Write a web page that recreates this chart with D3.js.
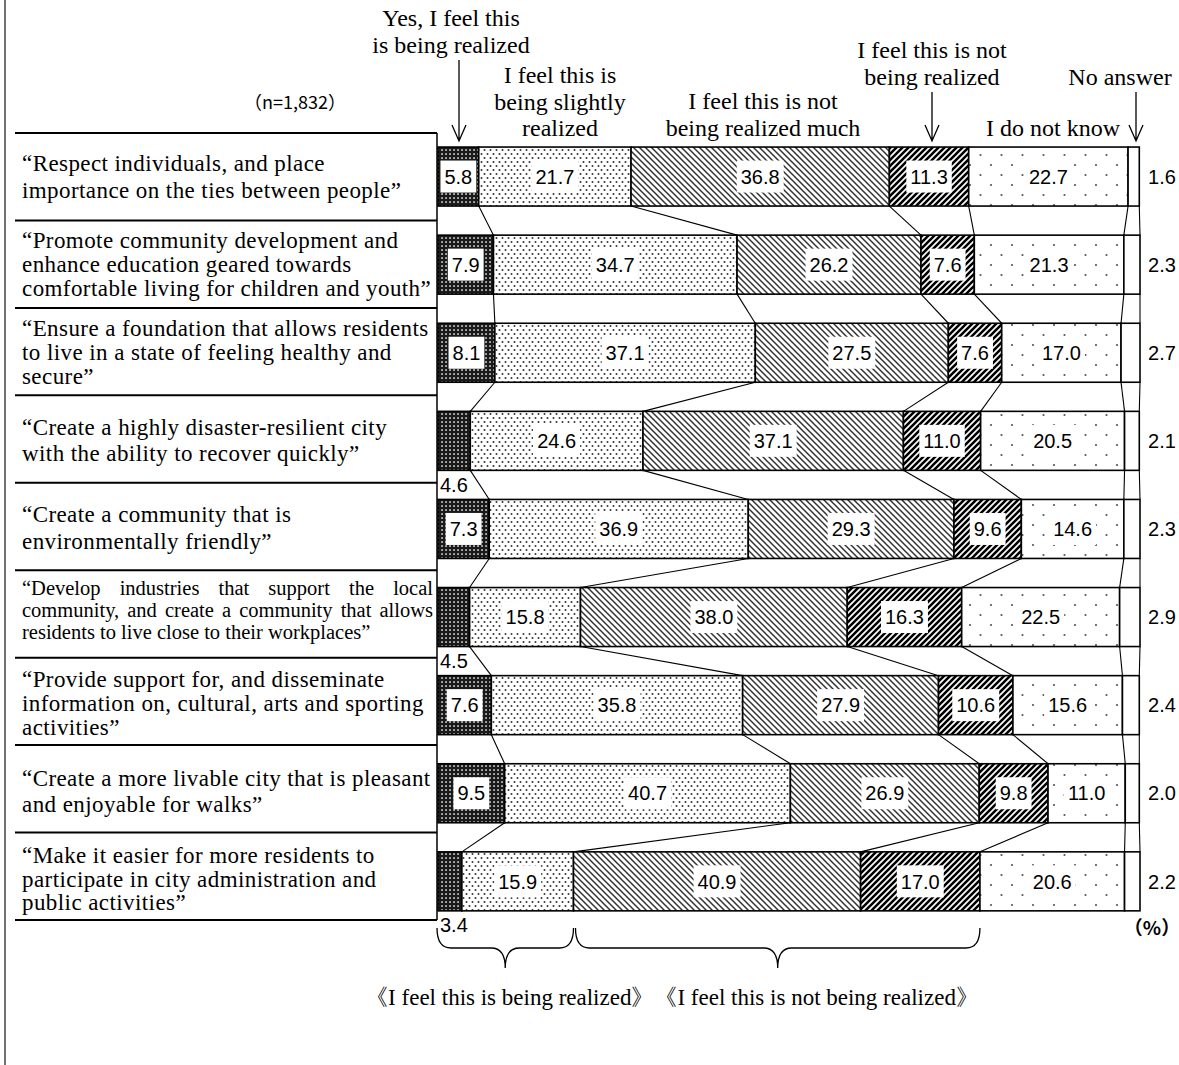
<!DOCTYPE html>
<html><head><meta charset="utf-8">
<script src="https://cdn.jsdelivr.net/npm/d3@7"></script>
<style>body{margin:0;background:#fff}svg{display:block}</style>
</head><body>
<svg id="chart" width="1179" height="1065"></svg>
<script>
// ---------- DATA ----------
const categoryLines = [
  ["“Respect individuals, and place", "importance on the ties between people”"],
  ["“Promote community development and", "enhance education geared towards", "comfortable living for children and youth”"],
  ["“Ensure a foundation that allows residents", "to live in a state of feeling healthy and", "secure”"],
  ["“Create a highly disaster-resilient city", "with the ability to recover quickly”"],
  ["“Create a community that is", "environmentally friendly”"],
  ["“Develop industries that support the local", "community, and create a community that allows", "residents to live close to their workplaces”"],
  ["“Provide support for, and disseminate", "information on, cultural, arts and sporting", "activities”"],
  ["“Create a more livable city that is pleasant", "and enjoyable for walks”"],
  ["“Make it easier for more residents to", "participate in city administration and", "public activities”"]
];
const seriesKeys = ["yes", "slightly", "notMuch", "not", "dontKnow", "noAnswer"];
const seriesHeaderLines = [
  ["Yes, I feel this", "is being realized"],
  ["I feel this is", "being slightly", "realized"],
  ["I feel this is not", "being realized much"],
  ["I feel this is not", "being realized"],
  ["I do not know"],
  ["No answer"]
];
const yesRealized      = [5.8, 7.9, 8.1, 4.6, 7.3, 4.5, 7.6, 9.5, 3.4];
const slightlyRealized = [21.7, 34.7, 37.1, 24.6, 36.9, 15.8, 35.8, 40.7, 15.9];
const notMuchRealized  = [36.8, 26.2, 27.5, 37.1, 29.3, 38.0, 27.9, 26.9, 40.9];
const notRealized      = [11.3, 7.6, 7.6, 11.0, 9.6, 16.3, 10.6, 9.8, 17.0];
const doNotKnow        = [22.7, 21.3, 17.0, 20.5, 14.6, 22.5, 15.6, 11.0, 20.6];
const noAnswer         = [1.6, 2.3, 2.7, 2.1, 2.3, 2.9, 2.4, 2.0, 2.2];
const sampleLabel = "（n=1,832）";
const unitLabel = "（%）";
const groupLabel = "《I feel this is being realized》《I feel this is not being realized》";

// ---------- SETUP ----------
const svg = d3.select("#chart");
const SERIF = "'Liberation Serif','Times New Roman',serif";
const SANS = "'Liberation Sans',Arial,sans-serif";
const n = categoryLines.length;

const table = categoryLines.map((c, i) => ({
  idx: i, yes: yesRealized[i], slightly: slightlyRealized[i], notMuch: notMuchRealized[i],
  not: notRealized[i], dontKnow: doNotKnow[i], noAnswer: noAnswer[i]
}));
const stacked = d3.stack().keys(seriesKeys)(table);

const x = d3.scaleLinear().domain([0, 100]).range([438, 1140]);
const y = d3.scaleBand().domain(d3.range(n)).range([132.5, 925.4]).padding(0);
const barH = 59;
const barTop = i => y(i) + (y.bandwidth() - barH) / 2;
const sepY = d3.scaleLinear().domain([0, n]).range([133, 920]);

// ---------- PATTERNS ----------
const defs = svg.append("defs");
function pat(id, w, h, build) {
  const p = defs.append("pattern").attr("id", id).attr("patternUnits", "userSpaceOnUse")
    .attr("width", w).attr("height", h);
  p.append("rect").attr("width", w).attr("height", h).attr("fill", "#fff");
  build(p);
}
pat("p0", 4, 4, p => {
  p.append("rect").attr("width", 4).attr("height", 4).attr("fill", "#1a1a1a");
  p.append("rect").attr("x", 1.3).attr("y", 1.3).attr("width", 1.5).attr("height", 1.5).attr("fill", "#fff");
});
pat("p1", 6, 8, p => {
  p.append("circle").attr("cx", 1.5).attr("cy", 2).attr("r", 1).attr("fill", "#333");
  p.append("circle").attr("cx", 4.5).attr("cy", 6).attr("r", 1).attr("fill", "#333");
});
pat("p2", 6, 6, p => {
  p.append("path").attr("d", "M-1,-1L7,7M-1,5L1,7M5,-1L7,1").attr("stroke", "#333").attr("stroke-width", 1.5);
});
pat("p3", 6, 6, p => {
  p.append("path").attr("d", "M-1,7L7,-1M-1,1L1,-1M5,7L7,5").attr("stroke", "#000").attr("stroke-width", 2.6);
});
pat("p4", 21, 20, p => {
  p.append("circle").attr("cx", 4).attr("cy", 5).attr("r", 1.1).attr("fill", "#555");
  p.append("circle").attr("cx", 14.5).attr("cy", 15).attr("r", 1.1).attr("fill", "#555");
});
const fills = ["url(#p0)", "url(#p1)", "url(#p2)", "url(#p3)", "url(#p4)", "#fff"];

// ---------- FRAME / SEPARATORS ----------
svg.append("line").attr("x1", 5).attr("x2", 5).attr("y1", 0).attr("y2", 1065)
  .attr("stroke", "#444").attr("stroke-width", 1.5);
svg.append("g").selectAll("line").data(d3.range(n + 1)).join("line")
  .attr("x1", 15).attr("x2", 437).attr("y1", d => sepY(d)).attr("y2", d => sepY(d))
  .attr("stroke", "#000").attr("stroke-width", 2);
svg.append("line").attr("x1", 437).attr("x2", 437).attr("y1", sepY(0)).attr("y2", sepY(n))
  .attr("stroke", "#000").attr("stroke-width", 1.5);

// ---------- CATEGORY LABELS ----------
const labG = svg.append("g").attr("font-family", SERIF).attr("fill", "#000");
categoryLines.forEach((lines, i) => {
  const barC = y(i) + y.bandwidth() / 2;
  const sepC = (sepY(i) + sepY(i + 1)) / 2;
  const small = lines.length === 3 && lines[1].length > 44;
  const cy = (barC + sepC) / 2 - (small ? 5 : 0);
  const fs = small ? 20.5 : 23;
  const gap = small ? 22 : (lines.length === 3 ? 23.8 : 26.5);
  lines.forEach((t, j) => {
    const ty = cy + (j - (lines.length - 1) / 2) * gap;
    const te = labG.append("text").attr("x", 22).attr("y", ty).attr("dy", "0.34em")
      .attr("font-size", fs).attr("letter-spacing", small ? 0 : 0.42).text(t);
    if (small && j < lines.length - 1) {
      const w = te.node().getComputedTextLength();
      const spaces = (t.match(/ /g) || []).length;
      te.attr("word-spacing", (411 - w) / spaces);
    }
  });
});

// ---------- BARS ----------
const barG = svg.append("g");
stacked.forEach((s, k) => {
  barG.append("g").selectAll("rect").data(s).join("rect")
    .attr("x", d => x(d[0])).attr("width", d => x(d[1]) - x(d[0]))
    .attr("y", (d, i) => barTop(i)).attr("height", barH)
    .attr("fill", fills[k]).attr("stroke", "#000").attr("stroke-width", 1.6);
});

// ---------- CONNECTORS ----------
const conG = svg.append("g").attr("stroke", "#000").attr("stroke-width", 1.1);
stacked.forEach((s, k) => {
  for (let i = 0; i < n - 1; i++) {
    conG.append("line")
      .attr("x1", x(s[i][1])).attr("y1", barTop(i) + barH)
      .attr("x2", x(s[i + 1][1])).attr("y2", barTop(i + 1));
  }
});

// ---------- VALUE LABELS ----------
const valG = svg.append("g").attr("font-family", SANS).attr("font-size", 20);
stacked.forEach((s, k) => {
  s.forEach((d, i) => {
    const v = d.data[seriesKeys[k]];
    const txt = v.toFixed(1);
    let tx, ty, anchor = "middle", box = true;
    if (k === 5) { tx = 1162; ty = barTop(i) + barH / 2; box = false; }
    else if (k === 0 && v < 5) { tx = 440; ty = barTop(i) + barH + 14; anchor = "start"; box = false; }
    else { tx = (x(d[0]) + x(d[1])) / 2; ty = barTop(i) + barH / 2; }
    const g = valG.append("g");
    const rect = g.append("rect").attr("fill", "#fff");
    const te = g.append("text").attr("x", tx).attr("y", ty).attr("dy", "0.36em")
      .attr("text-anchor", anchor).text(txt);
    if (box) {
      const b = te.node().getBBox();
      rect.attr("x", b.x - 4).attr("width", b.width + 8).attr("y", ty - 16).attr("height", 32);
    } else rect.remove();
  });
});

// ---------- HEADERS ----------
const hdG = svg.append("g").attr("font-family", SERIF).attr("font-size", 24).attr("text-anchor", "middle");
const headerPos = [
  {cx: 451, y0: 18, gap: 27, arrow: [459, 60, 141]},
  {cx: 560, y0: 75, gap: 26.5},
  {cx: 763, y0: 101, gap: 26.5},
  {cx: 932, y0: 50, gap: 27, arrow: [932, 92, 141]},
  {cx: 1053, y0: 128, gap: 26},
  {cx: 1120, y0: 77, gap: 26, arrow: [1136, 92, 141]}
];
seriesHeaderLines.forEach((lines, k) => {
  const p = headerPos[k];
  lines.forEach((t, j) => {
    hdG.append("text").attr("x", p.cx).attr("y", p.y0 + j * p.gap).attr("dy", "0.34em").text(t);
  });
  if (p.arrow) {
    const [ax, a0, a1] = p.arrow;
    svg.append("path").attr("d", `M${ax},${a0}V${a1}M${ax - 7},${a1 - 16}L${ax},${a1}L${ax + 7},${a1 - 16}`)
      .attr("fill", "none").attr("stroke", "#000").attr("stroke-width", 1.3);
  }
});

svg.append("text").attr("x", 295).attr("y", 103).attr("dy", "0.35em").attr("text-anchor", "middle")
  .attr("font-family", "'Noto Sans CJK JP',sans-serif").attr("font-size", 18).text(sampleLabel);
svg.append("text").attr("x", 1152).attr("y", 928).attr("dy", "0.35em").attr("text-anchor", "middle")
  .attr("font-family", "'Noto Sans CJK JP',sans-serif").attr("font-size", 19).attr("font-weight", "bold").text(unitLabel);

// ---------- BRACES ----------
function brace(x0, x1, y0, y1, y2) {
  const m = (x0 + x1) / 2, r = 14;
  return `M${x0},${y0}Q${x0},${y1} ${x0 + r},${y1}L${m - r},${y1}Q${m},${y1} ${m},${y2}` +
         `Q${m},${y1} ${m + r},${y1}L${x1 - r},${y1}Q${x1},${y1} ${x1},${y0}`;
}
const last = n - 1;
const b1 = stacked[1][last][1], b2 = stacked[3][last][1];
svg.append("path").attr("d", brace(x(0) - 1, x(b1), 928, 948, 968))
  .attr("fill", "none").attr("stroke", "#000").attr("stroke-width", 1.3);
svg.append("path").attr("d", brace(x(b1) + 2, x(b2), 928, 948, 968))
  .attr("fill", "none").attr("stroke", "#000").attr("stroke-width", 1.3);
svg.append("text").attr("x", 672).attr("y", 997).attr("dy", "0.34em").attr("text-anchor", "middle")
  .attr("font-family", SERIF).attr("font-size", 23).text(groupLabel);
</script>
</body></html>
